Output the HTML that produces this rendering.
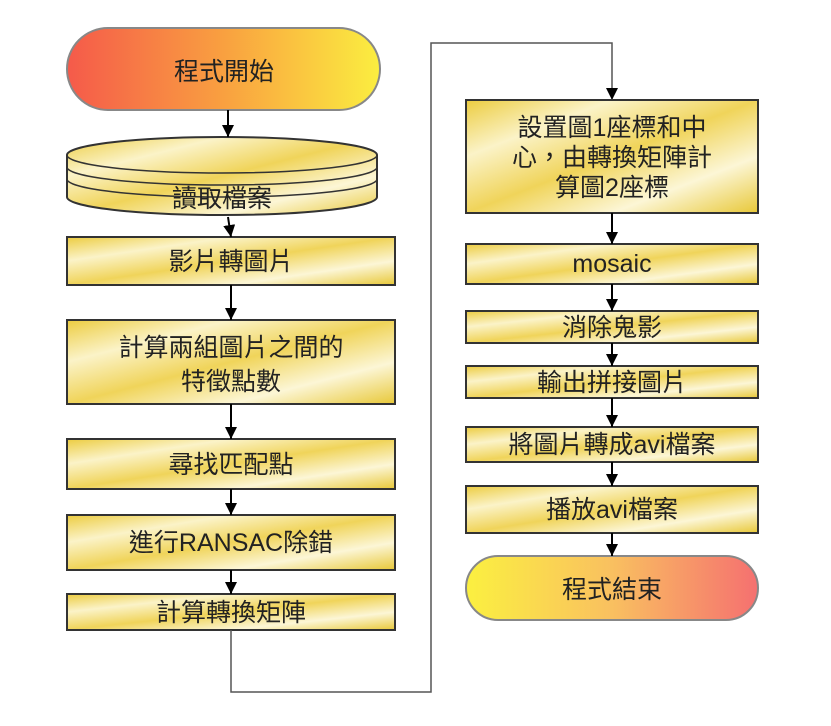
<!DOCTYPE html>
<html><head><meta charset="utf-8"><style>
html,body{margin:0;padding:0;background:#fff;width:831px;height:726px;overflow:hidden}
svg text{font-family:"Liberation Sans","Noto Sans CJK TC",sans-serif;font-size:25px;fill:#222;text-anchor:middle}
</style></head><body>
<svg width="831" height="726" xmlns="http://www.w3.org/2000/svg">
<defs>
<linearGradient id="y" x1="0" y1="0" x2="1" y2="1">
<stop offset="0" stop-color="#eccc40"/><stop offset="0.25" stop-color="#fbf3c8"/><stop offset="0.5" stop-color="#f0d45a"/><stop offset="0.75" stop-color="#fcf6d6"/><stop offset="1" stop-color="#e8c838"/></linearGradient>
<linearGradient id="s" x1="0" x2="1"><stop offset="0" stop-color="#f55a4a"/><stop offset="0.5" stop-color="#f9a040"/><stop offset="1" stop-color="#fbee40"/></linearGradient>
<linearGradient id="e" x1="0" x2="1"><stop offset="0" stop-color="#fbf040"/><stop offset="0.5" stop-color="#f9c060"/><stop offset="1" stop-color="#f57070"/></linearGradient>
<marker id="a" markerWidth="12" markerHeight="12" refX="12" refY="6" orient="auto" markerUnits="userSpaceOnUse" viewBox="0 0 12 12"><path d="M0,0L12,6L0,12Z" fill="#000"/></marker>
</defs>
<g stroke="#333" stroke-width="2">
<rect x="67" y="28" width="313" height="82" rx="41" fill="url(#s)" stroke="#888"/>
<path d="M67,155 A155,18 0 0 1 377,155 V197 A155,18 0 0 1 67,197 Z" fill="url(#y)"/>
<path d="M67,155 A155,18 0 0 0 377,155 M67,167 A155,18 0 0 0 377,167 M67,179 A155,18 0 0 0 377,179" fill="none" stroke-width="1.5"/>
<rect x="67" y="237" width="328" height="48" fill="url(#y)"/>
<rect x="67" y="320" width="328" height="84" fill="url(#y)"/>
<rect x="67" y="439" width="328" height="50" fill="url(#y)"/>
<rect x="67" y="515" width="328" height="55" fill="url(#y)"/>
<rect x="67" y="594" width="328" height="36" fill="url(#y)"/>
<rect x="466" y="100" width="292" height="113" fill="url(#y)"/>
<rect x="466" y="244" width="292" height="40" fill="url(#y)"/>
<rect x="466" y="311" width="292" height="32" fill="url(#y)"/>
<rect x="466" y="366" width="292" height="32" fill="url(#y)"/>
<rect x="466" y="427" width="292" height="35" fill="url(#y)"/>
<rect x="466" y="486" width="292" height="47" fill="url(#y)"/>
<rect x="466" y="556" width="292" height="64" rx="32" fill="url(#e)" stroke="#888"/>
</g>
<g stroke="#000" stroke-width="2" marker-end="url(#a)" fill="none">
<line x1="228" y1="110" x2="228" y2="137"/>
<line x1="228" y1="217" x2="231" y2="237"/>
<line x1="231" y1="285" x2="231" y2="320"/>
<line x1="231" y1="404" x2="231" y2="439"/>
<line x1="231" y1="489" x2="231" y2="515"/>
<line x1="231" y1="570" x2="231" y2="594"/>
<path d="M231,630 V692 H431 V43 H612 V100" stroke="#555" stroke-width="1.5"/>
<line x1="612" y1="213" x2="612" y2="244"/>
<line x1="612" y1="284" x2="612" y2="311"/>
<line x1="612" y1="343" x2="612" y2="366"/>
<line x1="612" y1="398" x2="612" y2="427"/>
<line x1="612" y1="462" x2="612" y2="486"/>
<line x1="612" y1="533" x2="612" y2="556"/>
</g>
<text x="224" y="80">程式開始</text>
<text x="222" y="207">讀取檔案</text>
<text x="231" y="270">影片轉圖片</text>
<text x="231" y="356">計算兩組圖片之間的</text>
<text x="231" y="390">特徵點數</text>
<text x="231" y="473">尋找匹配點</text>
<text x="231" y="551">進行RANSAC除錯</text>
<text x="231" y="621">計算轉換矩陣</text>
<text x="612" y="136">設置圖1座標和中</text>
<text x="612" y="166">心，由轉換矩陣計</text>
<text x="612" y="196">算圖2座標</text>
<text x="612" y="272">mosaic</text>
<text x="612" y="336">消除鬼影</text>
<text x="612" y="391">輸出拼接圖片</text>
<text x="612" y="453">將圖片轉成avi檔案</text>
<text x="612" y="518">播放avi檔案</text>
<text x="612" y="598">程式結束</text>
</svg>
</body></html>
